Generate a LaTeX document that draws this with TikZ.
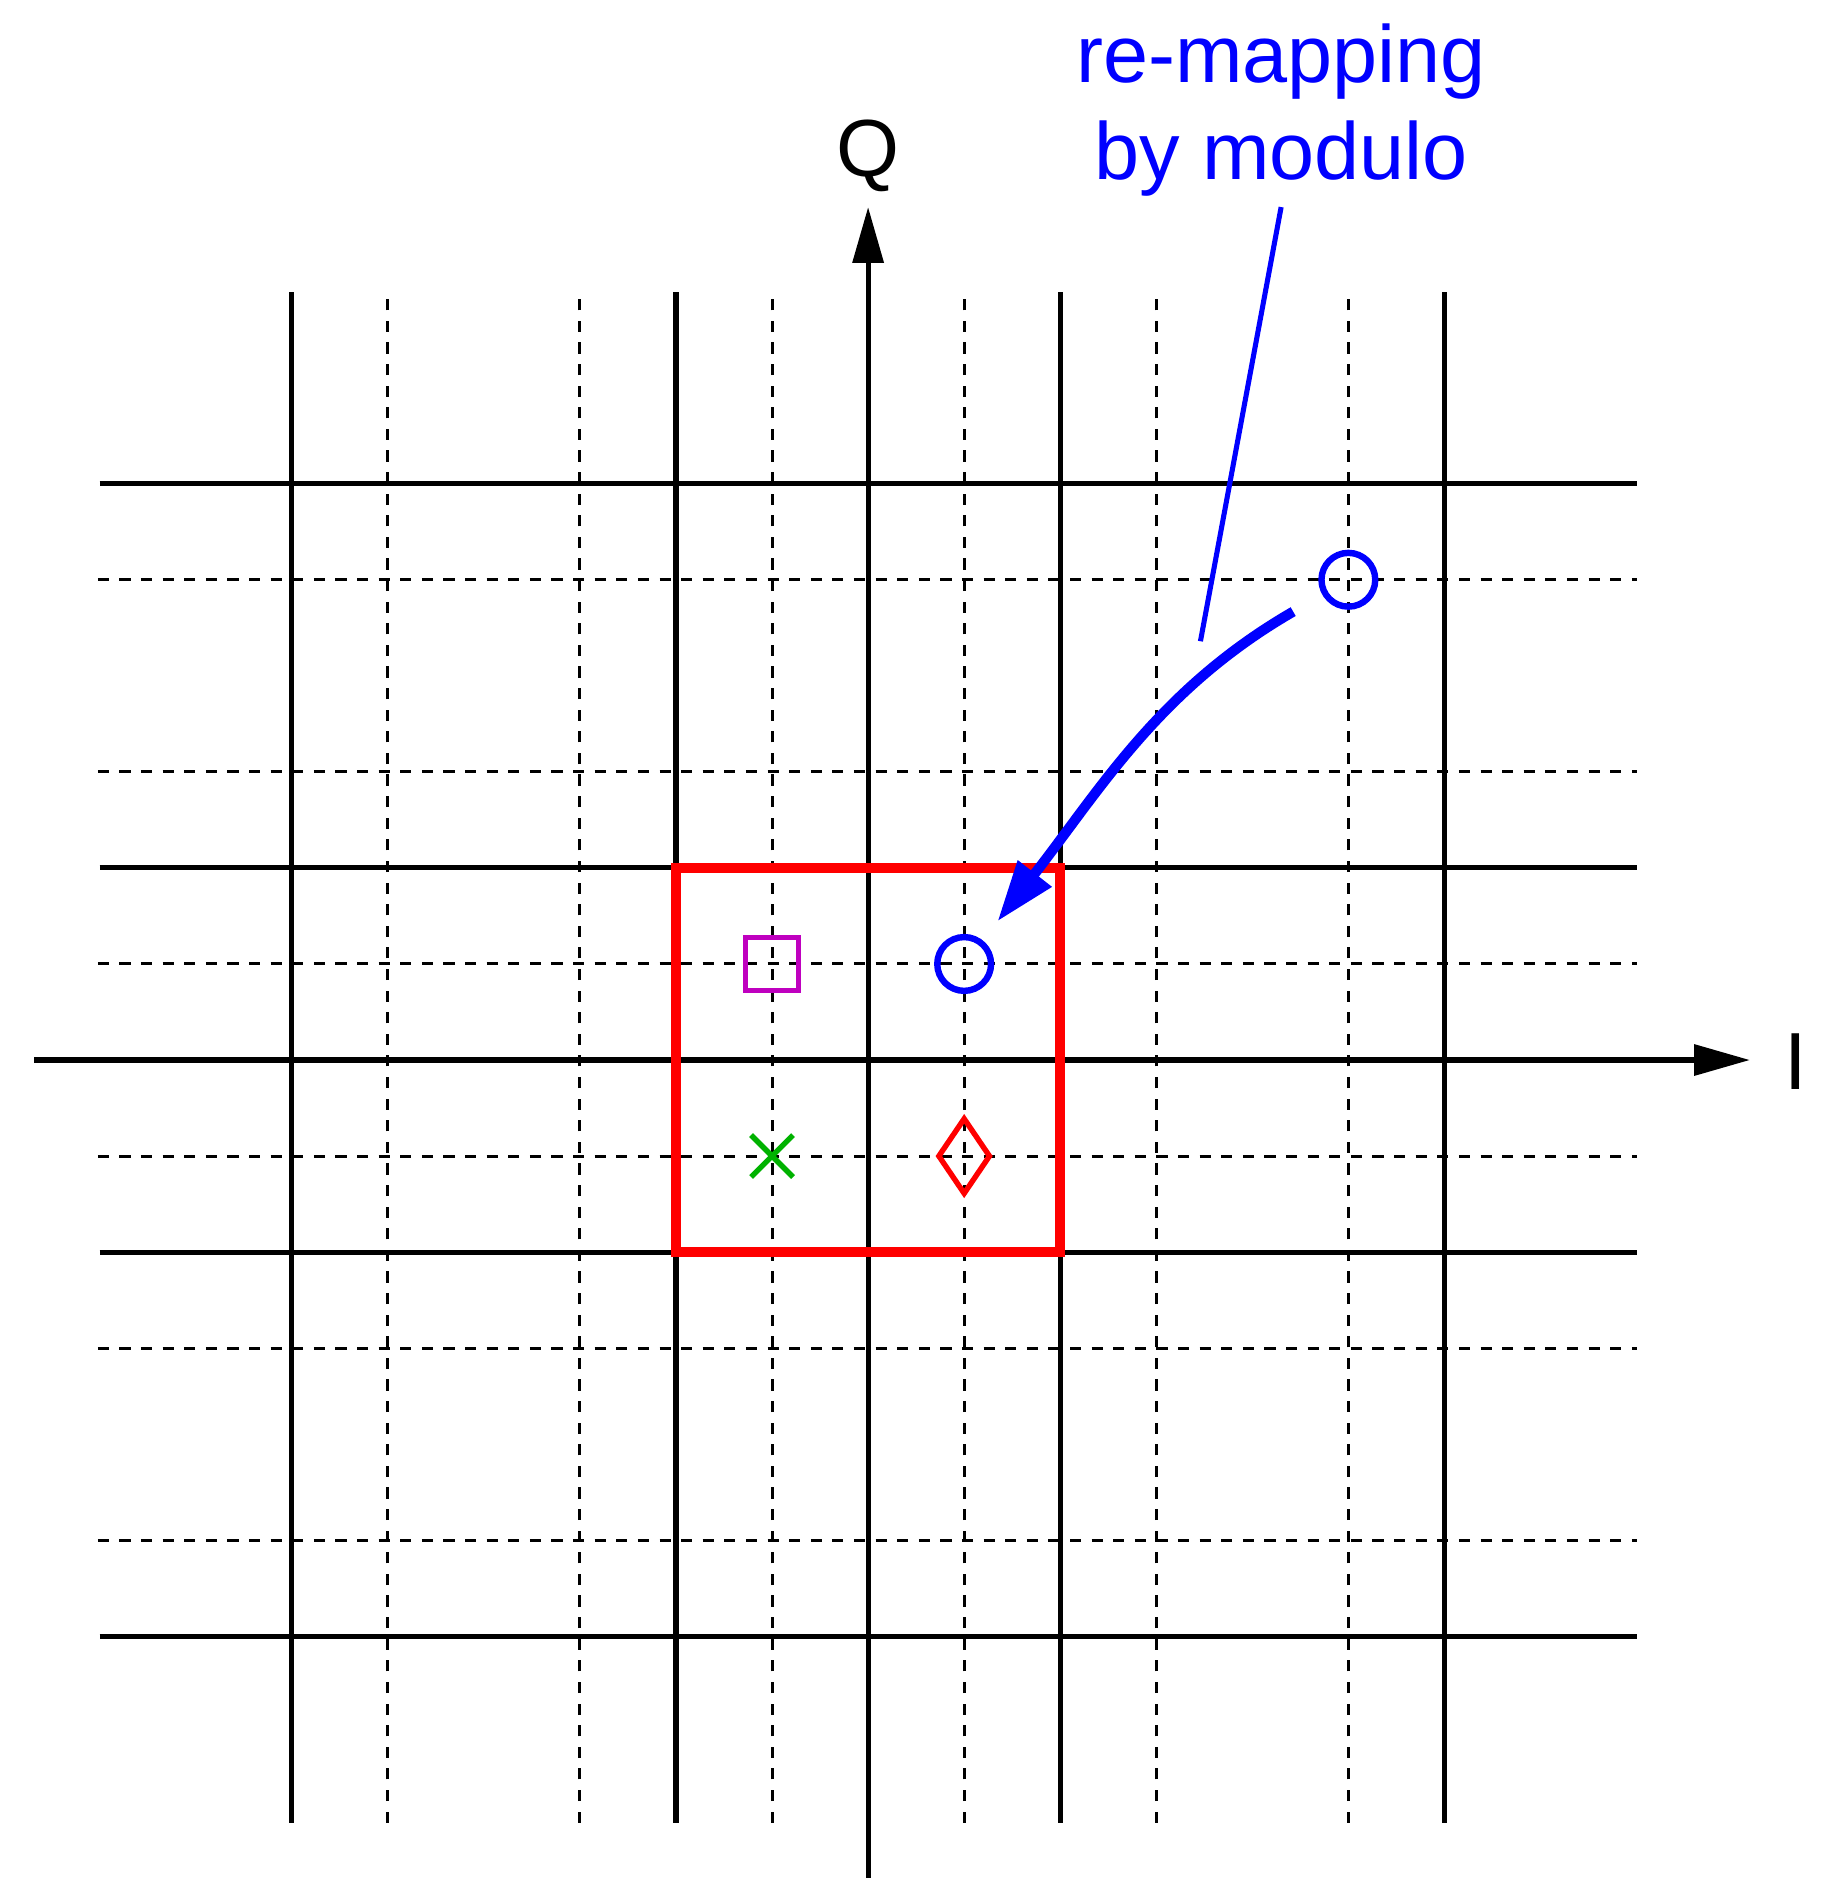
\documentclass[tikz,border=0pt]{standalone}
\usepackage{fontspec}
\setmainfont{Liberation Sans}
\usepackage{xcolor}
\usepackage{tikz}
\usetikzlibrary{arrows.meta,shapes.geometric,shapes.misc}
\definecolor{markmag}{RGB}{191,0,191}
\definecolor{markgreen}{RGB}{0,178,0}

\begin{document}
\begin{tikzpicture}[x=2cm, y=2cm,
    solidgrid/.style={line width=1.5pt},
    dashgrid/.style={line width=0.9pt, dash pattern=on 3.3pt off 3.1pt},
    axisline/.style={line width=1.5pt, -{Triangle[length=16.5pt,width=9pt]}},
    axislbl/.style={font=\fontsize{24}{29}\selectfont, anchor=base, inner sep=0pt},
    ptcircle/.style={draw=blue, circle, line width=1.9pt, minimum size=0.56cm,
        inner sep=0pt},
    ptsquare/.style={draw=markmag, rectangle, line width=1.6pt,
        minimum size=0.55cm, inner sep=0pt},
    ptcross/.style={draw=markgreen, cross out, line width=1.6pt,
        minimum size=0.38cm, inner sep=0pt},
    ptdiamond/.style={draw=red, diamond, line width=1.6pt, inner sep=0pt,
        minimum width=0.55cm, minimum height=0.80cm},
    remap/.style={-{Triangle[length=18pt,width=12pt]}, blue, line width=3pt,
        shorten <=0.35cm, shorten >=0.25cm},
]
\useasboundingbox (-4.519,-4.258) rectangle (4.977,5.518);

% Dashed half-step grid
\draw[dashgrid] (-4.01,2.5) -- (4,2.5) (-4.01,1.5) -- (4,1.5)
    (-4.01,0.5) -- (4,0.5) (-4.01,-0.5) -- (4,-0.5)
    (-4.01,-1.5) -- (4,-1.5) (-4.01,-2.5) -- (4,-2.5);
\draw[dashgrid] (-2.5,-3.97) -- (-2.5,3.97) (-1.5,-3.97) -- (-1.5,3.97)
    (-0.5,-3.97) -- (-0.5,3.97) (0.5,-3.97) -- (0.5,3.97)
    (1.5,-3.97) -- (1.5,3.97) (2.5,-3.97) -- (2.5,3.97);

% Solid grid
\draw[solidgrid] (-4,3) -- (4,3) (-4,1) -- (4,1)
    (-4,-1) -- (4,-1) (-4,-3) -- (4,-3);
\draw[solidgrid] (-3,-3.97) -- (-3,4) (-1,-3.97) -- (-1,4)
    (1,-3.97) -- (1,4) (3,-3.97) -- (3,4);

% I and Q axes
\coordinate (iaxstart) at (-4.34,0);
\coordinate (iaxend) at (4.59,0);
\coordinate (qaxstart) at (0,-4.4);
\coordinate (qaxend) at (0,4.44);
\draw[axisline] (iaxstart) -- (iaxend);
\draw[axisline] (qaxstart) -- (qaxend);
\node[axislbl] (ilbl) at (4.83,-0.151) {I};
\node[axislbl] (qlbl) at (0,4.60) {Q};

% Fundamental region
\draw[red, line width=3pt] (-1,-1) rectangle (1,1);

% Constellation points
\node[ptsquare] (ptsq) at (-0.5,0.5) {};
\node[ptcircle] (ptnear) at (0.5,0.5) {};
\node[ptcross] (ptx) at (-0.5,-0.5) {};
\node[ptdiamond] (ptdia) at (0.5,-0.5) {};
\node[ptcircle] (ptfar) at (2.5,2.5) {};

% Re-mapping arrow and its label
\draw[remap] (ptfar) to[out=210, in=52] (ptnear);
\node[blue, font=\fontsize{24}{28.7}\selectfont, align=center,
    anchor=south, inner sep=3pt] (remaplbl) at (2.15,4.44)
    {re-mapping\\by modulo};
\coordinate (leadend) at (1.73,2.18);
\draw[blue, line width=1.5pt] (remaplbl.south) -- (leadend);

\end{tikzpicture}
\end{document}
